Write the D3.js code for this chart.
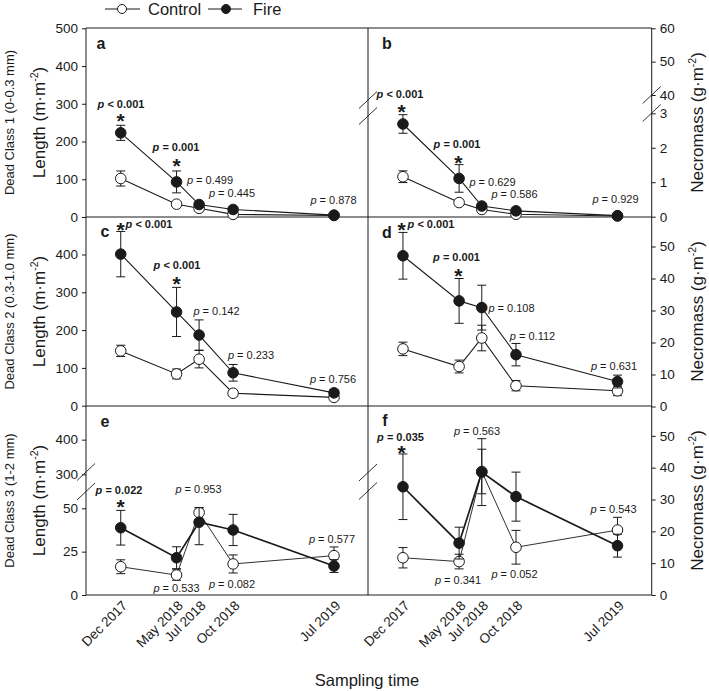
<!DOCTYPE html>
<html><head><meta charset="utf-8">
<script src="https://cdn.jsdelivr.net/npm/d3@7"></script>
<style>
body{margin:0;background:#fff}
svg{display:block}
text{font-family:"Liberation Sans",Arial,Helvetica,sans-serif;fill:#1a1a1a}
</style>
</head><body>
<svg id="chart" width="709" height="691"></svg>
<script>
// ---------------- DATA ----------------
const sampleDates = ["2017-12-01","2018-05-01","2018-07-01","2018-10-01","2019-07-01"];
const dateLabels = ["Dec 2017","May 2018","Jul 2018","Oct 2018","Jul 2019"];
const seriesNames = ["Control","Fire"];

// Dead class 1 (0-0.3 mm)
const lenC1Control = [102, 34, 23, 7, 4];
const lenC1ControlErr = [20, 5, 4, 2, 2];
const lenC1Fire = [223, 93, 33, 20, 5];
const lenC1FireErr = [20, 29, 4, 3, 2];
const massC1Control = [1.16, 0.41, 0.21, 0.07, 0.02];
const massC1ControlErr = [0.17, 0.06, 0.04, 0.02, 0.02];
const massC1Fire = [2.69, 1.11, 0.31, 0.17, 0.03];
const massC1FireErr = [0.27, 0.40, 0.04, 0.03, 0.02];

// Dead class 2 (0.3-1.0 mm)
const lenC2Control = [145, 84, 123, 33, 22];
const lenC2ControlErr = [15, 13, 23, 7, 5];
const lenC2Fire = [401, 248, 187, 87, 34];
const lenC2FireErr = [60, 65, 40, 22, 9];
const massC2Control = [18.0, 12.5, 21.4, 6.5, 4.9];
const massC2ControlErr = [2.1, 2.0, 4.0, 1.6, 1.5];
const massC2Fire = [47.1, 33.0, 30.9, 16.2, 7.8];
const massC2FireErr = [7.3, 7.0, 7.0, 3.5, 2.0];

// Dead class 3 (1-2 mm)
const lenC3Control = [16.3, 11.5, 47.5, 17.9, 22.7];
const lenC3ControlErr = [4.0, 3.0, 6.0, 5.2, 5.0];
const lenC3Fire = [38.8, 21.5, 42.0, 37.5, 16.7];
const lenC3FireErr = [10.0, 6.3, 13.0, 9.0, 3.7];
const massC3Control = [11.7, 10.5, 38.8, 15.0, 20.4];
const massC3ControlErr = [3.2, 2.3, 7.0, 5.3, 4.0];
const massC3Fire = [34.0, 16.3, 38.6, 30.9, 15.5];
const massC3FireErr = [10.3, 5.0, 10.5, 7.7, 3.6];

// p values and significance
const pA = ["< 0.001","= 0.001","= 0.499","= 0.445","= 0.878"];
const pB = ["< 0.001","= 0.001","= 0.629","= 0.586","= 0.929"];
const pC = ["< 0.001","< 0.001","= 0.142","= 0.233","= 0.756"];
const pD = ["< 0.001","= 0.001","= 0.108","= 0.112","= 0.631"];
const pE = ["= 0.022","= 0.533","= 0.953","= 0.082","= 0.577"];
const pF = ["= 0.035","= 0.341","= 0.563","= 0.052","= 0.543"];
const sigA = [true,true,false,false,false];
const sigB = [true,true,false,false,false];
const sigC = [true,true,false,false,false];
const sigD = [true,true,false,false,false];
const sigE = [true,false,false,false,false];
const sigF = [true,false,false,false,false];

// axis ticks
const ticksA = [0,100,200,300,400,500];
const ticksB = [0,1,2,3,40,50,60];
const ticksC = [0,100,200,300,400];
const ticksD = [0,10,20,30,40,50];
const ticksE = [0,25,50,300,400];
const ticksF = [0,10,20,30,40,50];

const rowTitles = ["Dead Class 1 (0-0.3 mm)","Dead Class 2 (0.3-1.0 mm)","Dead Class 3 (1-2 mm)"];

// ---------------- LAYOUT ----------------
const X0 = 86, XM = 368, X1 = 651.7;
const rowY = [28, 217, 406, 595];
const parse = d3.timeParse("%Y-%m-%d");
const dates = sampleDates.map(parse);
const xDomain = [parse("2017-08-29"), parse("2019-10-01")];
const xLeft = d3.scaleTime().domain(xDomain).range([X0, XM]);
const xRight = d3.scaleTime().domain(xDomain).range([XM, X1]);

// label positions (pixels) : [x, y] for p texts, stars
const layout = {
  a:{p:[[121,104],[176,147],[210,180],[232,193],[333.5,200]], star:[[120.7,117],[176.7,162]], label:[101,43]},
  b:{p:[[400,94],[457,144],[492.5,182],[514.5,194],[615.5,199]], star:[[401.7,108],[458.3,159]], label:[387,43]},
  c:{p:[[149,224],[177,264.7],[216.5,310.7],[251,355],[333,379.3]], star:[[120.7,226],[176.7,280]], label:[105,231]},
  d:{p:[[431,224],[456.5,256.7],[511.5,307.7],[532.5,336],[614,365.7]], star:[[401.7,226],[458.3,272]], label:[387,232]},
  e:{p:[[119,490],[176.5,588.3],[198.5,489],[232,584.3],[332,539.3]], star:[[120.7,503]], label:[105,421]},
  f:{p:[[400.5,436.7],[458,580],[477,431],[514.5,574.3],[613.5,509]], star:[[401.7,449]], label:[385,420]}
};

const panels = [
  {id:"a", col:0, row:0, ctrl:lenC1Control, ctrlErr:lenC1ControlErr, fire:lenC1Fire, fireErr:lenC1FireErr,
   dom:[0,500], rng:[217,28.3], ticks:ticksA, p:pA, sig:sigA},
  {id:"b", col:1, row:0, ctrl:massC1Control, ctrlErr:massC1ControlErr, fire:massC1Fire, fireErr:massC1FireErr,
   dom:[0,3,40,60], rng:[216.7,113.3,95,28.3], ticks:ticksB, p:pB, sig:sigB},
  {id:"c", col:0, row:1, ctrl:lenC2Control, ctrlErr:lenC2ControlErr, fire:lenC2Fire, fireErr:lenC2FireErr,
   dom:[0,500], rng:[405.7,216.7], ticks:ticksC, p:pC, sig:sigC},
  {id:"d", col:1, row:1, ctrl:massC2Control, ctrlErr:massC2ControlErr, fire:massC2Fire, fireErr:massC2FireErr,
   dom:[0,60], rng:[406.5,214.5], ticks:ticksD, p:pD, sig:sigD},
  {id:"e", col:0, row:2, ctrl:lenC3Control, ctrlErr:lenC3ControlErr, fire:lenC3Fire, fireErr:lenC3FireErr,
   dom:[0,50,300,500], rng:[595,508.3,474.3,405], ticks:ticksE, p:pE, sig:sigE, thick:true},
  {id:"f", col:1, row:2, ctrl:massC3Control, ctrlErr:massC3ControlErr, fire:massC3Fire, fireErr:massC3FireErr,
   dom:[0,60], rng:[595,404], ticks:ticksF, p:pF, sig:sigF, thick:true}
];

const ink = "#1a1a1a";
const svg = d3.select("#chart");

// frame lines
const frame = svg.append("g").attr("stroke", ink).attr("stroke-width", 1).attr("fill","none");
rowY.forEach(y => frame.append("line").attr("x1",X0).attr("x2",X1).attr("y1",y).attr("y2",y));
[X0, XM, X1].forEach(x => frame.append("line").attr("x1",x).attr("x2",x).attr("y1",rowY[0]).attr("y2",rowY[3]));

// break marks
function slash(x, y){
  svg.append("line").attr("x1",x-9).attr("y1",y+8.5).attr("x2",x+9).attr("y2",y-8.5)
     .attr("stroke",ink).attr("stroke-width",0.9);
}
slash(XM,100); slash(XM,116);
slash(X1,95); slash(X1,113);
slash(X0,472); slash(X0,491.5);
slash(XM,472.5); slash(XM,491);

panels.forEach(P => {
  const x = P.col === 0 ? xLeft : xRight;
  const y = d3.scaleLinear().domain(P.dom).range(P.rng);
  const g = svg.append("g");

  // axis
  const axis = (P.col === 0 ? d3.axisLeft(y) : d3.axisRight(y))
      .tickValues(P.ticks).tickSize(4).tickPadding(4).tickSizeOuter(0).tickFormat(d3.format("d"));
  const ag = g.append("g").attr("transform", `translate(${P.col===0?X0:X1},0)`).call(axis);
  ag.select(".domain").remove();
  ag.selectAll("line").attr("stroke", ink);
  ag.selectAll("text").attr("font-size", 13.5).attr("fill", ink)
    .style("font-family",'"Liberation Sans",Arial,sans-serif');

  // lines
  const lineGen = d3.line().x((d,i) => x(dates[i])).y(d => y(d));
  [["ctrl","ctrlErr","#fff"],["fire","fireErr",ink]].forEach(([k,ke,fill],si) => {
    const vals = P[k];
    g.append("path").datum(vals).attr("d", lineGen).attr("fill","none").attr("stroke", ink)
      .attr("stroke-width", P.thick ? (si===1 ? 1.7 : 0.9) : 1.1);
  });
  [["ctrl","ctrlErr","#fff"],["fire","fireErr",ink]].forEach(([k,ke,fill]) => {
    const vals = P[k], errs = P[ke];
    const eb = g.append("g").attr("stroke", ink).attr("stroke-width", 1);
    vals.forEach((v,i) => {
      const cx = x(dates[i]);
      const hi = y(v + errs[i]), lo = y(Math.max(0, v - errs[i]));
      eb.append("line").attr("x1",cx).attr("x2",cx).attr("y1",hi).attr("y2",lo);
      eb.append("line").attr("x1",cx-4.5).attr("x2",cx+4.5).attr("y1",hi).attr("y2",hi);
      eb.append("line").attr("x1",cx-4.5).attr("x2",cx+4.5).attr("y1",lo).attr("y2",lo);
    });
    g.append("g").selectAll("circle").data(vals).join("circle")
      .attr("cx",(d,i) => x(dates[i])).attr("cy", d => y(d)).attr("r", 5.3)
      .attr("fill", fill).attr("stroke", ink).attr("stroke-width", 1);
  });

  // panel label
  const L = layout[P.id];
  g.append("text").attr("x", L.label[0]).attr("y", L.label[1]).attr("dy","0.35em")
    .attr("text-anchor","middle").attr("font-size",16).attr("font-weight","bold").text(P.id);

  // p values
  P.p.forEach((t,i) => {
    const pos = L.p[i];
    const tx = g.append("text").attr("x",pos[0]).attr("y",pos[1]).attr("dy","0.35em")
      .attr("text-anchor","middle").attr("font-size", 11)
      .attr("font-weight", P.sig[i] ? "bold" : "normal")
      .attr("fill", P.sig[i] ? "#000" : "#333");
    tx.append("tspan").attr("font-style","italic").text("p");
    tx.append("tspan").text(" " + t);
  });
  // stars
  L.star.forEach(s => {
    g.append("text").attr("x", s[0]).attr("y", s[1] + 11).attr("text-anchor","middle")
      .attr("font-size", 21).attr("font-weight","bold").attr("fill","#000").text("*");
  });
});

// x tick labels
[xLeft, xRight].forEach(x => {
  dates.forEach((d,i) => {
    svg.append("text").attr("transform", `translate(${x(d)+4},${603}) rotate(-45)`)
      .attr("text-anchor","end").attr("dy","0.35em").attr("font-size",13.5).text(dateLabels[i]);
  });
});

// axis titles
function unitTitle(g, base, unit){
  const t = g.append("text").attr("text-anchor","middle").attr("font-size",17).attr("dy","0.35em");
  t.append("tspan").text(base + " (" + unit + "\u00B7m");
  t.append("tspan").attr("font-size",10.5).attr("dy","-0.7em").text("-2");
  t.append("tspan").attr("dy","0.45em").text(")");
  return t;
}
for (let r = 0; r < 3; r++){
  const cy = (rowY[r] + rowY[r+1]) / 2;
  const gl = svg.append("g").attr("transform", `translate(39,${cy}) rotate(-90)`);
  unitTitle(gl, "Length", "m");
  svg.append("text").attr("transform", `translate(9,${cy}) rotate(-90)`).attr("text-anchor","middle")
    .attr("dy","0.35em").attr("font-size",13).text(rowTitles[r]);
  const gr = svg.append("g").attr("transform", `translate(697,${cy}) rotate(-90)`);
  unitTitle(gr, "Necromass", "g");
}

// x title
svg.append("text").attr("x", 367).attr("y", 680).attr("dy","0.35em").attr("text-anchor","middle")
  .attr("font-size",16.5).text("Sampling time");

// legend
const lg = svg.append("g");
[[105,140,122,"#fff",seriesNames[0],148],[208,242,226,ink,seriesNames[1],253]].forEach(([a,b,c,f,t,tx]) => {
  lg.append("line").attr("x1",a).attr("x2",b).attr("y1",9).attr("y2",9).attr("stroke",ink).attr("stroke-width",1.1);
  lg.append("circle").attr("cx",c).attr("cy",9).attr("r",4.5).attr("fill",f).attr("stroke",ink);
  lg.append("text").attr("x",tx).attr("y",9).attr("dy","0.35em").attr("font-size",16.5).text(t);
});
</script>
</body></html>
